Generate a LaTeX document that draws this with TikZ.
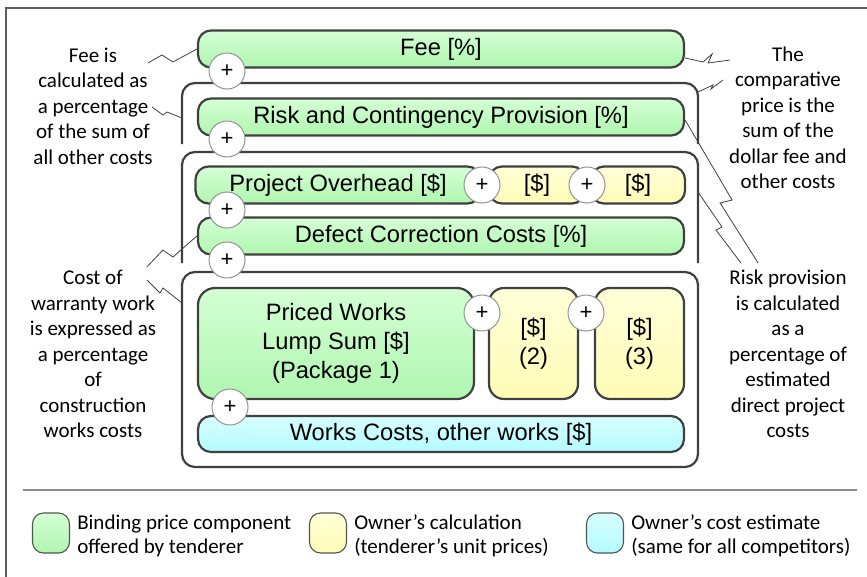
\documentclass[tikz,border=0pt]{standalone}
\usepackage{fontspec}
\usepackage{xcolor}
\usepackage{tikz}
\usetikzlibrary{positioning}
\newfontfamily\boxfont{Liberation Sans}
\newfontfamily\notefont{Carlito}
\definecolor{grnhi}{RGB}{212,255,212}
\definecolor{grnlo}{RGB}{176,246,176}
\definecolor{ylwhi}{RGB}{255,255,216}
\definecolor{ylwlo}{RGB}{255,252,182}
\definecolor{cyahi}{RGB}{216,255,255}
\definecolor{cyalo}{RGB}{178,251,255}
\definecolor{edge}{RGB}{64,64,64}
\tikzset{
  cost/.style    ={draw=edge, line width=2.2pt, rounded corners=13pt, top color=grnhi, bottom color=grnlo, align=center, inner sep=0pt, font=\boxfont\fontsize{23.7}{29}\selectfont},
  own/.style     ={cost, top color=ylwhi, bottom color=ylwlo},
  est/.style     ={cost, top color=cyahi, bottom color=cyalo},
  sum/.style     ={draw=gray!85, line width=1pt, circle, fill=white, minimum size=36pt, inner sep=0pt, font=\boxfont\fontsize{22}{22}\selectfont},
  frm/.style     ={draw=edge, line width=2.2pt, rounded corners=13pt},
  note/.style    ={align=center, inner sep=0pt, font=\notefont\fontsize{21}{25.5}\selectfont},
  legtext/.style ={align=left, inner sep=0pt, yshift=-3pt, font=\notefont\fontsize{21}{24}\selectfont},
  swatch/.style  ={draw=edge!90, line width=1.1pt, rounded corners=11pt, minimum width=37pt, minimum height=40pt},
  zig/.style     ={draw=edge, line width=0.8pt},
}

\begin{document}
\begin{tikzpicture}[x=1pt, y=-1pt, node distance=7pt]
  \useasboundingbox (0,0) rectangle (867,576);
  \draw[edge!85, line width=1.5pt] (6,590) -- (6,8) -- (880,8);

  % nested frames
  \coordinate (f1w)  at (182,118);
  \coordinate (f1ne) at (698,92);
  \coordinate (f2e)  at (698,192);
  \coordinate (f3w)  at (182,303);
  \draw[frm] (182,144) -- (182,83) -- (698,83) -- (698,144);
  \draw[frm] (182,263) -- (182,152) -- (698,152) -- (698,263);
  \draw[frm] (182,272) rectangle (698,467);

  \node[cost, minimum width=486pt, minimum height=37pt] (fee)    at (441,49)  {Fee [\%]};
  \node[cost, minimum width=486pt, minimum height=37pt] (risk)   at (441,117) {Risk and Contingency Provision [\%]};
  \node[cost, minimum width=285pt, minimum height=37pt] (ovh)    at (338,185) {Project Overhead [\$]};
  \node[own,  minimum width=96pt,  minimum height=37pt] (ovh2)   at (537,185) {[\$]};
  \node[own,  minimum width=94pt,  minimum height=37pt] (ovh3)   at (638,185) {[\$]};
  \node[cost, minimum width=486pt, minimum height=37pt] (defect) at (441,236) {Defect Correction Costs [\%]};
  \node[cost, rounded corners=17pt, minimum width=276pt, minimum height=111pt] (priced) at (336,343.5) {Priced Works\\Lump Sum [\$]\\(Package 1)};
  \node[own,  rounded corners=15pt, minimum width=89pt,  minimum height=111pt] (opt2)   at (533.5,343.5) {[\$]\\(2)};
  \node[own,  rounded corners=15pt, minimum width=89pt,  minimum height=111pt] (opt3)   at (639.5,343.5) {[\$]\\(3)};
  \node[est,  minimum width=486pt, minimum height=36pt] (works)  at (441,434) {Works Costs, other works [\$]};

  \node[sum] (s1) at (227,71)  {+};
  \node[sum] (s2) at (227,139) {+};
  \node[sum] (s3) at (482,185) {+};
  \node[sum] (s4) at (587,185) {+};
  \node[sum] (s5) at (227,210) {+};
  \node[sum] (s6) at (227,260) {+};
  \node[sum] (s7) at (482,313) {+};
  \node[sum] (s8) at (586,313) {+};
  \node[sum] (s9) at (230,407) {+};

  % remarks
  \node[note] (feenote) at (93,106)  {Fee is\\calculated as\\a percentage\\of the sum of\\all other costs};
  \node[note] (wrnote)  at (93,354)  {Cost of\\warranty work\\is expressed as\\a percentage\\of\\construction\\works costs};
  \node[note] (cmpnote) at (788,118) {The\\comparative\\price is the\\sum of the\\dollar fee and\\other costs};
  \node[note] (rsknote) at (788,354) {Risk provision\\is calculated\\as a\\percentage of\\estimated\\direct project\\costs};

  \draw[zig] (fee.west) -- ++(-24,13) -- ++(-11,-7) -- ++(-14,8);
  \draw[zig] (f1w) -- ++(-15,-6) -- ++(-4,3) -- ++(-11,-8);
  \draw[zig] (defect.west) -- ++(-24,21) -- ++(-10,-7) -- ++(-16,17);
  \draw[zig] (f3w) -- ++(-19,-15) -- ++(-3,5) -- ++(-13,-13);
  \draw[zig] ([yshift=-9pt]fee.east) -- ++(18,4) -- ++(9,-8) -- ++(-4,9) -- ++(22,-3);
  \draw[zig] (f1ne) -- ++(15,-7) -- ++(-2,4) -- ++(12,-9);
  \draw[zig] ([yshift=-3pt]risk.east) -- ++(47,80) -- ++(-12,3) -- ++(38,60);
  \draw[zig] (f2e) -- ++(24,35) -- ++(-6,3) -- ++(25,33);

  % legend
  \draw[gray!90, line width=2pt] (23,490) -- (857,490);
  \node[swatch, top color=grnhi, bottom color=grnlo] (gsw) at (51,533)  {};
  \node[legtext, right=7pt of gsw] (gtxt) {Binding price component\\offered by tenderer};
  \node[swatch, top color=ylwhi, bottom color=ylwlo] (ysw) at (328,533) {};
  \node[legtext, right=7pt of ysw] (ytxt) {Owner’s calculation\\(tenderer’s unit prices)};
  \node[swatch, top color=cyahi, bottom color=cyalo] (csw) at (605,533) {};
  \node[legtext, right=7pt of csw] (ctxt) {Owner’s cost estimate\\(same for all competitors)};
\end{tikzpicture}
\end{document}
